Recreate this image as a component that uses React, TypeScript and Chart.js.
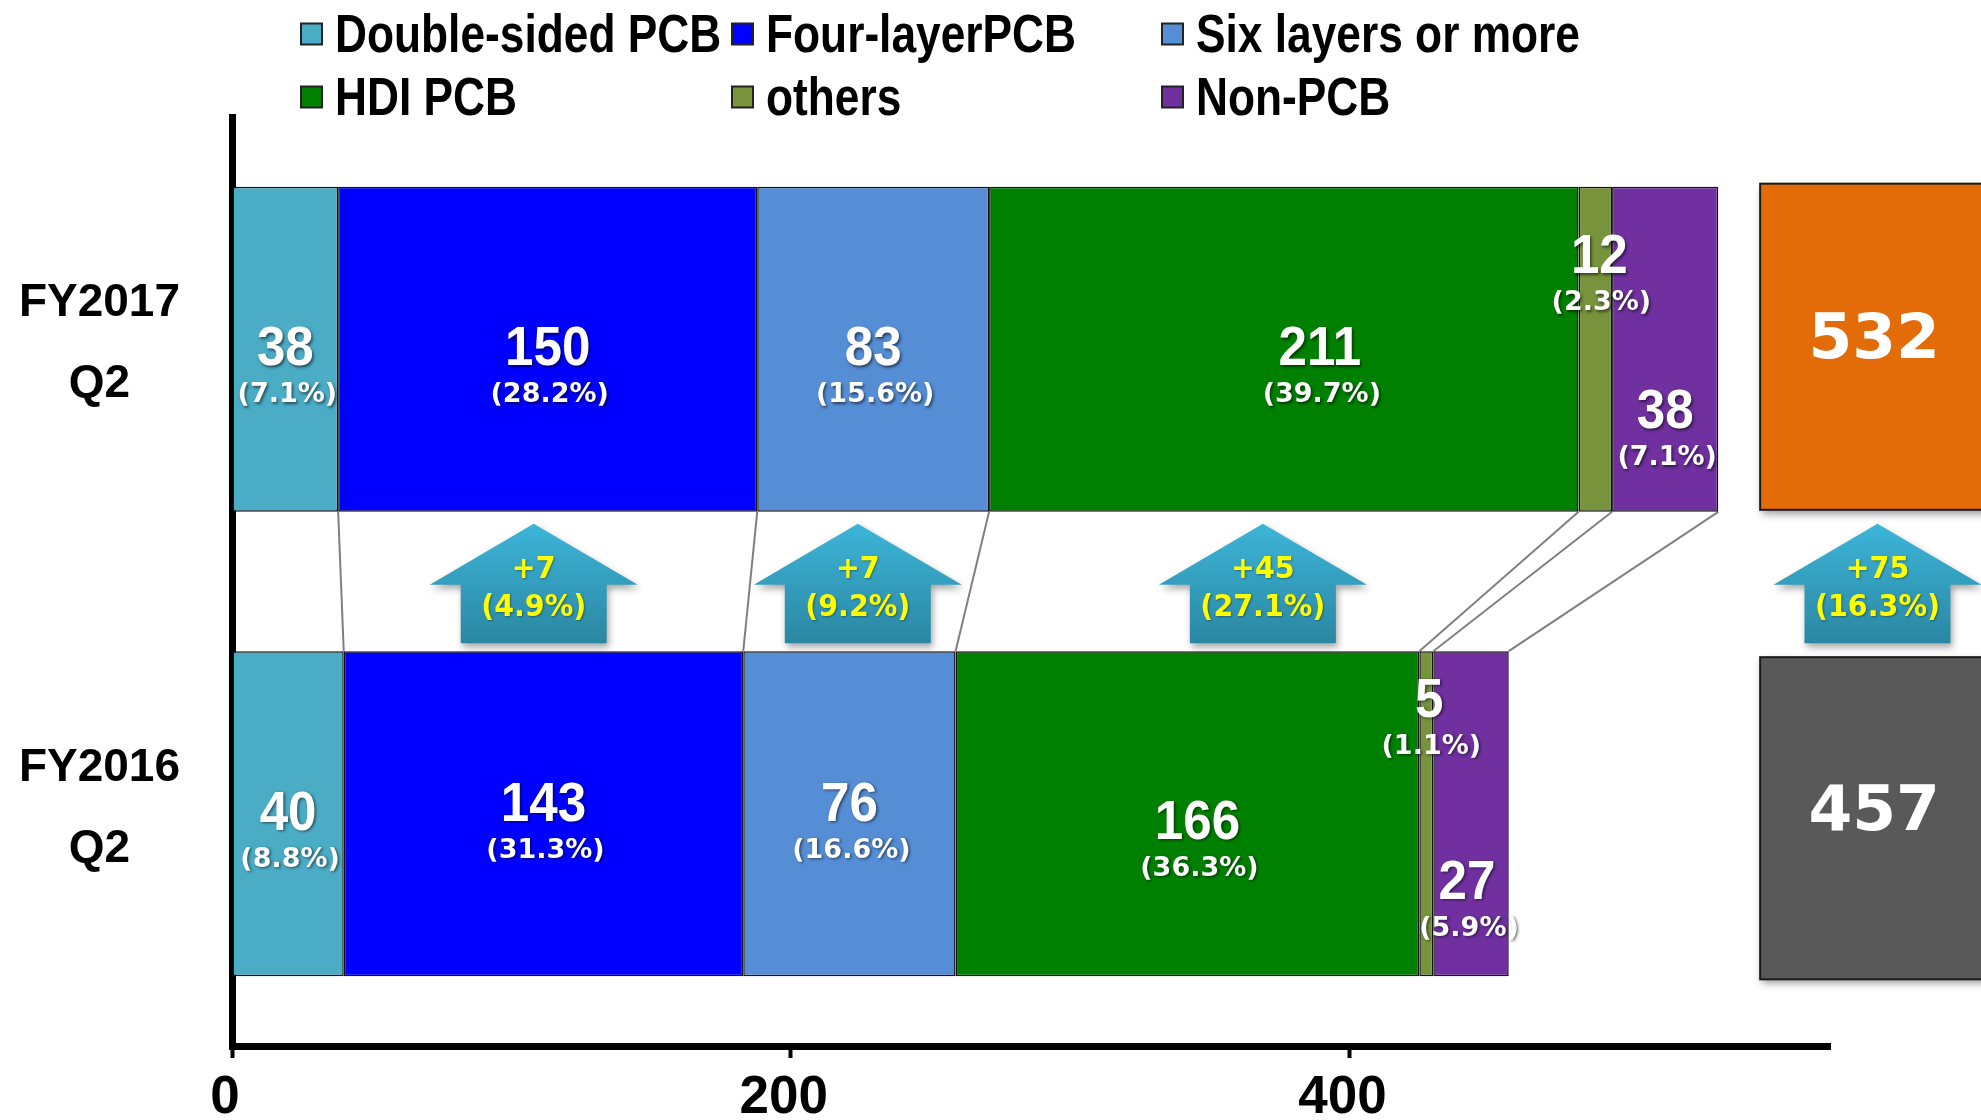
import React, { useEffect, useRef } from "react";
import { Chart, registerables } from "chart.js";

Chart.register(...registerables);

// ---------- data ----------
const categories = [["FY2017", "Q2"], ["FY2016", "Q2"]];
const seriesNames = ["Double-sided PCB", "Four-layerPCB", "Six layers or more", "HDI PCB", "others", "Non-PCB"];
const doubleSided = [38, 40];
const fourLayer = [150, 143];
const sixLayers = [83, 76];
const hdiPcb = [211, 166];
const others = [12, 5];
const nonPcb = [38, 27];
const share2017 = ["(7.1%)", "(28.2%)", "(15.6%)", "(39.7%)", "(2.3%)", "(7.1%)"];
const share2016 = ["(8.8%)", "(31.3%)", "(16.6%)", "(36.3%)", "(1.1%)", "(5.9%)"];
const changeDelta = ["+7", "+7", "+45", "+75"];
const changePct = ["(4.9%)", "(9.2%)", "(27.1%)", "(16.3%)"];
const changeAt = [108, 224, 369, 589]; // x-axis value where each change arrow sits
const totalBoxAt = 547; // x-axis value where the total boxes start
const xTicks = [0, 200, 400];
const xMax = 572;

// ---------- styles ----------
const seriesColors = ["#4BACC6", "#0000FF", "#558ED5", "#008000", "#77933C", "#7030A0"];
const totalColors = ["#E36C09", "#595959"];
const LS = "'Liberation Sans', Arial, sans-serif";
const DV = "'DejaVu Sans', Verdana, sans-serif";
// per segment label nudges [series][category]
const labelDx = [[0, 0], [0, 0], [0, 0], [36, 10], [4, 3], [0, -4]];
const labelDy = [[1, 1], [1, -8], [1, -8], [1, 10], [-91, -112], [64, 70]];

const seriesData = [doubleSided, fourLayer, sixLayers, hdiPcb, others, nonPcb];
const shares = [share2017, share2016];

function arrowPath(ctx: CanvasRenderingContext2D, cx: number, tip: number, base: number, bottom: number, hh: number, sh: number) {
  ctx.beginPath();
  ctx.moveTo(cx, tip);
  ctx.lineTo(cx + hh, base);
  ctx.lineTo(cx + sh, base);
  ctx.lineTo(cx + sh, bottom);
  ctx.lineTo(cx - sh, bottom);
  ctx.lineTo(cx - sh, base);
  ctx.lineTo(cx - hh, base);
  ctx.closePath();
}

function barRect(chart: any, di: number, ci: number) {
  const el = chart.getDatasetMeta(di).data[ci];
  const p = el.getProps(["x", "y", "base", "height"], true);
  return {
    left: Math.min(p.x, p.base),
    right: Math.max(p.x, p.base),
    top: p.y - p.height / 2,
    bottom: p.y + p.height / 2,
    cy: p.y,
  };
}

function scaledText(ctx: CanvasRenderingContext2D, text: string, x: number, y: number, sx: number) {
  ctx.save();
  ctx.translate(x, y);
  ctx.scale(sx, 1);
  ctx.fillText(text, 0, 0);
  ctx.restore();
}

const overlayPlugin = {
  id: "overlay",
  beforeDatasetsDraw(chart: any) {
    const ctx = chart.ctx as CanvasRenderingContext2D;
    ctx.save();
    ctx.strokeStyle = "#808080";
    ctx.lineWidth = 2;
    for (let i = 0; i < seriesData.length; i++) {
      const a = barRect(chart, i, 0);
      const b = barRect(chart, i, 1);
      ctx.beginPath();
      ctx.moveTo(a.right, a.bottom);
      ctx.lineTo(b.right, b.top);
      ctx.stroke();
    }
    ctx.restore();
  },
  afterDatasetsDraw(chart: any) {
    const ctx = chart.ctx as CanvasRenderingContext2D;
    const xs = chart.scales.x;
    // segment labels
    for (let i = 0; i < seriesData.length; i++) {
      for (let c = 0; c < 2; c++) {
        const r = barRect(chart, i, c);
        const cx = (r.left + r.right) / 2 + labelDx[i][c];
        const cy = r.cy + labelDy[i][c];
        ctx.save();
        ctx.fillStyle = "#FFFFFF";
        ctx.shadowColor = "rgba(0,0,0,0.55)";
        ctx.shadowBlur = 3;
        ctx.shadowOffsetX = 1.5;
        ctx.shadowOffsetY = 1.5;
        ctx.textAlign = "center";
        ctx.textBaseline = "middle";
        ctx.font = `bold 55px ${LS}`;
        scaledText(ctx, String(seriesData[i][c]), cx, cy, 0.93);
        ctx.font = `bold 27px ${DV}`;
        ctx.fillText(shares[c][i], cx + 2, cy + 45);
        ctx.restore();
      }
    }
    // total boxes
    const totals = [0, 1].map((c) => seriesData.reduce((s, d) => s + d[c], 0));
    for (let c = 0; c < 2; c++) {
      const r = barRect(chart, 0, c);
      const x0 = xs.getPixelForValue(totalBoxAt);
      const top = c === 0 ? r.top - 3 : r.top + 6;
      const bottom = c === 0 ? r.bottom - 2 : r.bottom + 3;
      ctx.save();
      ctx.shadowColor = "rgba(0,0,0,0.4)";
      ctx.shadowBlur = 8;
      ctx.shadowOffsetX = 2;
      ctx.shadowOffsetY = 4;
      ctx.fillStyle = totalColors[c];
      ctx.fillRect(x0, top, 240, bottom - top);
      ctx.restore();
      ctx.save();
      ctx.strokeStyle = "#1a1a1a";
      ctx.lineWidth = 2;
      ctx.strokeRect(x0, top, 240, bottom - top);
      ctx.fillStyle = "#FFFFFF";
      ctx.font = `bold 63px ${DV}`;
      ctx.textAlign = "center";
      ctx.textBaseline = "middle";
      ctx.fillText(String(totals[c]), x0 + 114, (top + bottom) / 2 - 5);
      ctx.restore();
    }
    // change arrows
    const upper = barRect(chart, 0, 0).bottom;
    const lower = barRect(chart, 0, 1).top;
    for (let k = 0; k < changeAt.length; k++) {
      const cx = xs.getPixelForValue(changeAt[k]);
      const tip = upper + 12;
      const base = upper + 73;
      const bottom = lower - 8;
      ctx.save();
      const g = ctx.createLinearGradient(0, tip, 0, bottom);
      g.addColorStop(0, "#3DB5D9");
      g.addColorStop(1, "#2A87A1");
      ctx.shadowColor = "rgba(0,0,0,0.35)";
      ctx.shadowBlur = 7;
      ctx.shadowOffsetX = 2;
      ctx.shadowOffsetY = 4;
      arrowPath(ctx, cx, tip, base, bottom, 104, 73);
      ctx.fillStyle = g;
      ctx.fill();
      ctx.restore();
      ctx.save();
      ctx.fillStyle = "#FFFF00";
      ctx.shadowColor = "rgba(0,0,0,0.35)";
      ctx.shadowBlur = 2;
      ctx.shadowOffsetX = 1;
      ctx.shadowOffsetY = 1;
      ctx.textAlign = "center";
      ctx.textBaseline = "middle";
      ctx.font = `bold 31px ${DV}`;
      scaledText(ctx, changeDelta[k], cx, upper + 58, 0.92);
      scaledText(ctx, changePct[k], cx, upper + 96, 0.92);
      ctx.restore();
    }
  },
  afterDraw(chart: any) {
    const ctx = chart.ctx as CanvasRenderingContext2D;
    const colX = [301, 732, 1162];
    const rowY = [34, 97];
    chart.data.datasets.forEach((ds: any, i: number) => {
      const bx = colX[i % 3];
      const cy = rowY[Math.floor(i / 3)];
      ctx.save();
      ctx.fillStyle = ds.backgroundColor;
      ctx.fillRect(bx, cy - 10.5, 21, 21);
      ctx.strokeStyle = "#222";
      ctx.lineWidth = 2;
      ctx.strokeRect(bx, cy - 10.5, 21, 21);
      ctx.fillStyle = "#000";
      ctx.font = `bold 54px ${LS}`;
      ctx.textAlign = "left";
      ctx.textBaseline = "middle";
      scaledText(ctx, ds.label, bx + 34, cy + 3, 0.82);
      ctx.restore();
    });
  },
};

export default function App() {
  const ref = useRef<HTMLCanvasElement>(null);
  useEffect(() => {
    document.body.style.margin = "0";
    const chart = new Chart(ref.current as HTMLCanvasElement, {
      type: "bar",
      data: {
        labels: categories as any,
        datasets: seriesData.map((d, i) => ({
          label: seriesNames[i],
          data: d,
          backgroundColor: seriesColors[i],
          borderColor: "#111111",
          borderWidth: 1.5,
          borderSkipped: false,
          barPercentage: 0.7,
          categoryPercentage: 1,
        })),
      },
      options: {
        indexAxis: "y",
        responsive: false,
        animation: false,
        devicePixelRatio: 1,
        layout: { padding: { left: 0, top: 117, right: 151, bottom: 0 } },
        plugins: { legend: { display: false }, tooltip: { enabled: false } },
        scales: {
          x: {
            stacked: true,
            min: 0,
            max: xMax,
            z: 1,
            afterBuildTicks: (s: any) => {
              s.ticks = xTicks.map((v) => ({ value: v }));
            },
            afterFit: (s: any) => {
              s.height = 74;
              s.paddingLeft = 0;
              s.paddingRight = 0;
              s.paddingTop = 0;
              s.paddingBottom = 0;
            },
            grid: {
              drawOnChartArea: false,
              drawTicks: true,
              tickLength: 12,
              tickWidth: 4,
              tickColor: "#000",
            },
            border: { display: true, color: "#000", width: 7 },
            ticks: {
              autoSkip: false,
              maxRotation: 0,
              padding: 9,
              labelOffset: -7,
              color: "#000",
              font: { family: LS, size: 53, weight: "bold" },
            },
          },
          y: {
            stacked: true,
            z: 1,
            afterFit: (s: any) => {
              s.width = 232;
              s.paddingLeft = 0;
              s.paddingRight = 0;
              s.paddingTop = 0;
              s.paddingBottom = 0;
            },
            grid: { display: false, drawTicks: false },
            border: { display: true, color: "#000", width: 7 },
            ticks: {
              crossAlign: "center",
              padding: 52,
              labelOffset: -5,
              color: "#000",
              font: { family: LS, size: 46, weight: "bold", lineHeight: 1.76 },
            },
          },
        },
      },
      plugins: [overlayPlugin],
    } as any);
    return () => chart.destroy();
  }, []);
  return (
    <div style={{ width: 1981, height: 1120 }}>
      <canvas ref={ref} width={1981} height={1120} style={{ display: "block" }} />
    </div>
  );
}
